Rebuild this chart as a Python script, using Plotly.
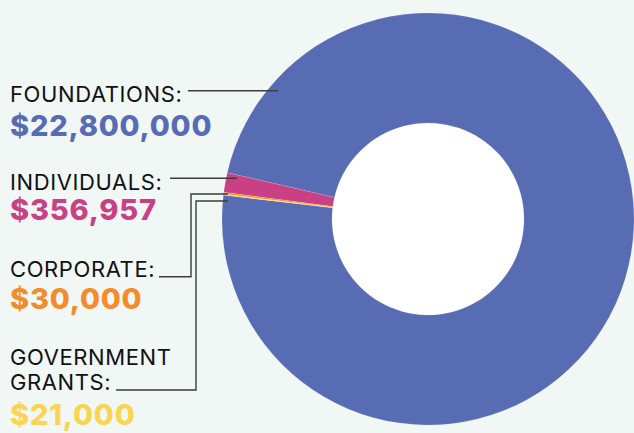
import plotly.graph_objects as go

# ---- data ----
categories = ["FOUNDATIONS", "INDIVIDUALS", "CORPORATE", "GOVERNMENT GRANTS"]
values = [22800000, 356957, 30000, 21000]
label_lines = [["FOUNDATIONS:"], ["INDIVIDUALS:"], ["CORPORATE:"], ["GOVERNMENT", "GRANTS:"]]
value_labels = ["$22,800,000", "$356,957", "$30,000", "$21,000"]
colors = ["#586cb3", "#c94184", "#f68b2a", "#fdd44f"]

W, H = 634, 433
BG = "#f0f7f5"
FONT = "Inter, Roboto, Arial, sans-serif"


def px(x):
    return x / W


def py(y):
    return 1 - y / H


# pie geometry (pixels)
PIE_LEFT, PIE_TOP, PIE_BOTTOM = 222, 11, 427
HOLE = 0.466
dom_x = [px(PIE_LEFT), 1.0]
dom_y = [py(PIE_BOTTOM), py(PIE_TOP)]
radius = min(W - PIE_LEFT, PIE_BOTTOM - PIE_TOP) / 2
cx = PIE_LEFT + radius
cy = (PIE_TOP + PIE_BOTTOM) / 2

fig = go.Figure(
    go.Pie(
        labels=categories,
        values=values,
        hole=HOLE,
        sort=False,
        direction="counterclockwise",
        rotation=283,
        marker=dict(colors=colors, line=dict(color="rgba(255,255,255,0.4)", width=0.3)),
        textinfo="none",
        hoverinfo="label+value",
        domain=dict(x=dom_x, y=dom_y),
        showlegend=False,
    )
)

# white hole behind the donut
hr = radius * HOLE + 2
shapes = [
    dict(type="circle", xref="paper", yref="paper", layer="below",
         x0=px(cx - hr), x1=px(cx + hr), y0=py(cy + hr), y1=py(cy - hr),
         fillcolor="white", line=dict(width=0)),
]

# leader lines (pixel paths)
leaders = [
    [(188, 90.7), (278, 90.7)],
    [(170, 178.3), (237, 178.3)],
    [(159, 276.7), (191, 276.7), (191, 194), (228, 194)],
    [(116, 390), (196, 390), (196, 201), (228, 201)],
]
for pts in leaders:
    path = "M " + " L ".join(f"{px(x)},{py(y)}" for x, y in pts)
    shapes.append(dict(type="path", xref="paper", yref="paper", path=path,
                       line=dict(color="#3d3d3d", width=1.4)))

# label positions (cap-centre y in px)
label_y = [[93.7], [182], [269.3], [357.2, 381.7]]
value_y = [125, 209.2, 298.8, 414]

annotations = []
for lines, ys in zip(label_lines, label_y):
    for t, y in zip(lines, ys):
        annotations.append(dict(
            x=px(8), y=py(y), xref="paper", yref="paper", xanchor="left", yanchor="middle",
            text=f'<span style="letter-spacing:0.6px">{t}</span>', showarrow=False,
            font=dict(family=FONT, size=22, color="#111111")))
for t, y, c in zip(value_labels, value_y, colors):
    annotations.append(dict(
        x=px(8), y=py(y), xref="paper", yref="paper", xanchor="left", yanchor="middle",
        text=f'<span style="letter-spacing:0.8px">{t}</span>', showarrow=False,
        font=dict(family=FONT, size=29, color=c, weight=800)))

fig.update_layout(
    width=W, height=H,
    margin=dict(l=0, r=0, t=0, b=0),
    paper_bgcolor=BG, plot_bgcolor=BG,
    shapes=shapes, annotations=annotations,
)

fig.write_html("out.html")
